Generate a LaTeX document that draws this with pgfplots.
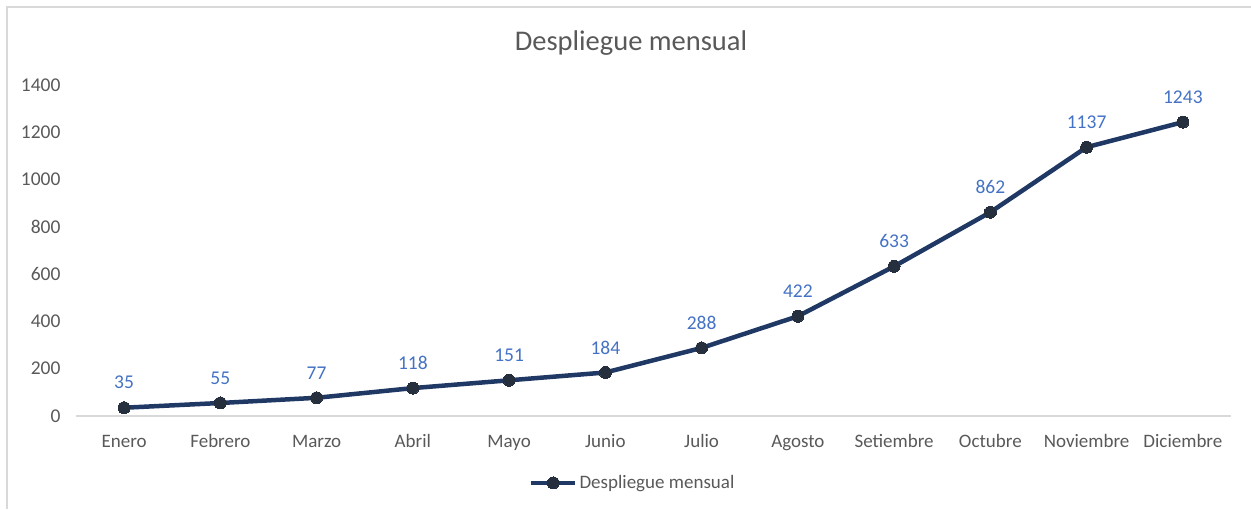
\documentclass[border=0pt]{standalone}
\usepackage{fontspec}
\setmainfont{Carlito}
\usepackage{pgfplots}
\pgfplotsset{compat=1.18}
\definecolor{txtgray}{HTML}{595959}
\definecolor{axgray}{HTML}{D9D9D9}
\definecolor{lblblue}{HTML}{4472C4}
\definecolor{linenavy}{HTML}{203864}
\definecolor{markdark}{HTML}{262F3D}

\begin{document}
\begin{tikzpicture}[x=1pt,y=1pt]
  \useasboundingbox (0,0) rectangle (1251,509);
  \draw[axgray, line width=2pt] (7,0) -- (7,502) -- (1251,502);
  \node[font=\fontsize{28.5}{32}\selectfont, text=txtgray] at (631,466) {Despliegue mensual};
  \begin{axis}[
      at={(76pt,93pt)}, anchor=south west,
      scale only axis,
      width=1155pt, height=331pt,
      xmin=-0.5, xmax=11.5,
      ymin=0, ymax=1400,
      xtick={0,...,11},
      xticklabels={Enero, Febrero, Marzo, Abril, Mayo, Junio, Julio, Agosto, Setiembre, Octubre, Noviembre, Diciembre},
      ytick={0,200,...,1400},
      axis x line*=bottom,
      axis y line*=left,
      x axis line style={axgray, line width=1.5pt, -},
      y axis line style={draw=none},
      major tick length=0pt,
      tick style={draw=none},
      /pgf/number format/assume math mode=true,
      /pgf/number format/1000 sep={},
      ticklabel style={font=\fontsize{19.5}{22}\selectfont, text=txtgray},
      yticklabel style={anchor=east, xshift=-12pt},
      xticklabel style={font=\fontsize{19}{22}\selectfont, anchor=base, yshift=-31pt},
      nodes near coords,
      every node near coord/.append style={font=\fontsize{19.5}{22}\selectfont, text=lblblue, anchor=center, yshift=25pt},
      legend style={at={(0.482,-0.2024)}, anchor=center, draw=none, fill=none,
        font=\fontsize{19}{22}\selectfont, text=txtgray},
      legend image code/.code={
        \draw[mark repeat=2, mark phase=2, #1] plot coordinates {(0pt,0pt) (22pt,0pt) (44pt,0pt)};
      },
    ]
    \addplot[linenavy, line width=4.5pt, mark=*, mark size=6pt,
      mark options={fill=markdark, draw=markdark, line width=0pt}]
      coordinates {
        (0,35) (1,55) (2,77) (3,118) (4,151) (5,184)
        (6,288) (7,422) (8,633) (9,862) (10,1137) (11,1243)
      };
    \addlegendentry{Despliegue mensual}
  \end{axis}
\end{tikzpicture}
\end{document}
